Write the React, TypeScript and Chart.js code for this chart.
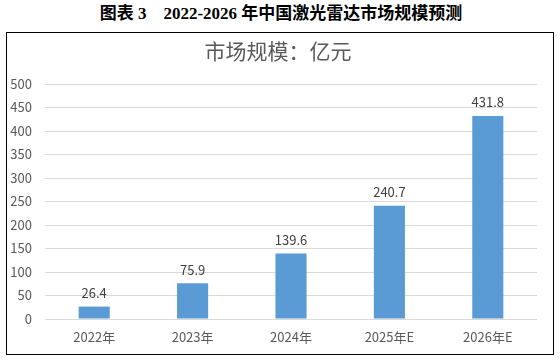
import React, { useEffect, useRef } from "react";
import { Chart, registerables } from "chart.js";

Chart.register(...registerables);

const categories = ["2022年", "2023年", "2024年", "2025年E", "2026年E"];
const values = [26.4, 75.9, 139.6, 240.7, 431.8];
const yTicks = [0, 50, 100, 150, 200, 250, 300, 350, 400, 450, 500];
const outerTitle = "图表 3    2022-2026 年中国激光雷达市场规模预测";
const chartTitle = "市场规模：亿元";

const AXIS_FONT = "'Noto Sans CJK SC', 'Microsoft YaHei', sans-serif";

export default function App() {
  const ref = useRef<HTMLCanvasElement | null>(null);
  useEffect(() => {
    document.body.style.margin = "0";
    const canvas = ref.current!;
    const titlePlugin = {
      id: "innerTitle",
      afterDraw(chart: any) {
        const ctx = chart.ctx;
        ctx.save();
        ctx.font = `21px ${AXIS_FONT}`;
        ctx.fillStyle = "#595959";
        ctx.textAlign = "center";
        ctx.textBaseline = "middle";
        ctx.fillText(chartTitle, 271, 18);
        ctx.restore();
      },
    };
    const labelPlugin = {
      id: "valueLabels",
      afterDatasetsDraw(chart: any) {
        const ctx = chart.ctx;
        const meta = chart.getDatasetMeta(0);
        ctx.save();
        ctx.font = `13px ${AXIS_FONT}`;
        ctx.fillStyle = "#404040";
        ctx.textAlign = "center";
        ctx.textBaseline = "bottom";
        meta.data.forEach((bar: any, i: number) => {
          ctx.fillText(values[i].toFixed(1), bar.x, bar.y - 7);
        });
        ctx.restore();
      },
    };
    const chart = new Chart(canvas, {
      type: "bar",
      data: {
        labels: categories,
        datasets: [
          {
            data: values,
            backgroundColor: "#5B9BD5",
            categoryPercentage: 1,
            barPercentage: 0.316,
          },
        ],
      },
      options: {
        animation: false,
        responsive: false,
        maintainAspectRatio: false,
        layout: { padding: { top: 51, right: 16, bottom: 0, left: 0 } },
        plugins: {
          legend: { display: false },
          title: { display: false },
          tooltip: { enabled: false },
        },
        scales: {
          x: {
            grid: { display: false, drawTicks: false },
            border: { display: false },
            ticks: {
              color: "#595959",
              font: { size: 13, family: AXIS_FONT },
              padding: 10,
            },
            afterFit: (s: any) => {
              s.height = 35;
            },
          },
          y: {
            min: 0,
            max: 500,
            afterBuildTicks: (s: any) => {
              s.ticks = yTicks.map((v) => ({ value: v }));
            },
            grid: { color: "#d9d9d9", drawTicks: false },
            border: { display: false },
            ticks: {
              color: "#595959",
              font: { size: 13, family: AXIS_FONT },
              padding: 13,
            },
            afterFit: (s: any) => {
              s.width = 38;
            },
          },
        },
      },
      plugins: [titlePlugin, labelPlugin],
    });
    return () => chart.destroy();
  }, []);

  return (
    <div style={{ position: "absolute", left: 0, top: 0, width: 560, height: 363, background: "#fff" }}>
      <div
        style={{
          position: "absolute",
          left: 0,
          top: 4,
          width: 562,
          textAlign: "center",
          whiteSpace: "pre",
          fontFamily: "'Liberation Serif', 'Noto Sans CJK SC', serif",
          fontWeight: "bold",
          fontSize: 17,
          lineHeight: "20px",
          color: "#000",
        }}
      >
        {outerTitle}
      </div>
      <div
        style={{
          position: "absolute",
          left: 6,
          top: 32,
          width: 546,
          height: 321,
          border: "1px solid #000",
        }}
      >
        <canvas ref={ref} width={546} height={321} style={{ display: "block" }} />
      </div>
    </div>
  );
}
